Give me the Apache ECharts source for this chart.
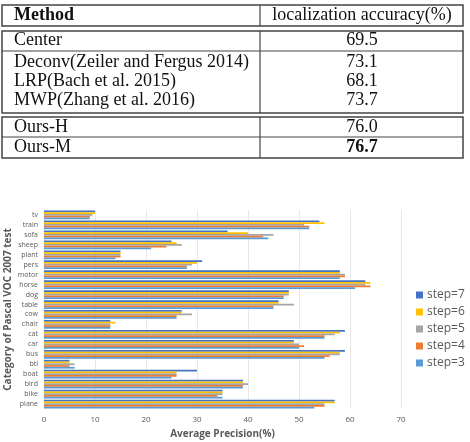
<!DOCTYPE html>
<html>
<head>
<meta charset="utf-8">
<script src="https://cdn.jsdelivr.net/npm/echarts@6/dist/echarts.min.js"></script>
<style>
  html, body { margin: 0; padding: 0; background: #fff; }
  #chart { width: 470px; height: 442px; }
</style>
</head>
<body>
<div id="chart"></div>
<script>
// table data
const methods = ['Center', 'Deconv(Zeiler and Fergus 2014)', 'LRP(Bach et al. 2015)', 'MWP(Zhang et al. 2016)', 'Ours-H', 'Ours-M'];
const accuracy = ['69.5', '73.1', '68.1', '73.7', '76.0', '76.7'];

// bar chart data (bottom to top)
const categories = ['plane', 'bike', 'bird', 'boat', 'btl', 'bus', 'car', 'cat', 'chair', 'cow',
  'table', 'dog', 'horse', 'motor', 'pers', 'plant', 'sheep', 'sofa', 'train', 'tv'];
const step7 = [57, 35, 39, 30, 5, 59, 49, 59, 13, 27, 46, 48, 63, 58, 31, 15, 25, 36, 54, 10];
const step6 = [57, 35, 39, 26, 5, 58, 49, 58, 14, 27, 46, 48, 64, 58, 30, 15, 26, 40, 55, 10];
const step5 = [55, 35, 40, 26, 6, 58, 50, 57, 13, 29, 49, 48, 63, 59, 29, 15, 27, 45, 51, 9.5];
const step4 = [55, 34, 39, 26, 5, 56, 51, 55, 13, 26, 45, 47, 64, 59, 28, 15, 24, 43, 52, 9];
const step3 = [53, 35, 39, 25, 6, 55, 50, 55, 13, 26, 45, 47, 61, 58, 28, 14, 21, 44, 52, 9];
const xTicks = [0, 10, 20, 30, 40, 50, 60, 70];

const chart = echarts.init(document.getElementById('chart'));

// table drawn with graphic elements
const rowY = [40, 62, 81, 100, 127, 147];
const serif = '"Liberation Serif", "DejaVu Serif", serif';
const border = { stroke: '#444', lineWidth: 1.5, fill: 'none' };
const tableGraphic = [];
[[5, 26], [31, 113], [117, 158]].forEach(function (b) {
  tableGraphic.push({ type: 'rect', shape: { x: 2, y: b[0], width: 461, height: b[1] - b[0] }, style: border });
  tableGraphic.push({ type: 'line', shape: { x1: 260, y1: b[0], x2: 260, y2: b[1] }, style: { stroke: '#444', lineWidth: 1.2 } });
});
[51, 137].forEach(function (y) {
  tableGraphic.push({ type: 'line', shape: { x1: 2, y1: y, x2: 463, y2: y }, style: { stroke: '#444', lineWidth: 1.2 } });
});
tableGraphic.push({ type: 'text', x: 14, y: 15, style: { text: 'Method', font: 'bold 18px ' + serif, fill: '#111', verticalAlign: 'middle' } });
tableGraphic.push({ type: 'text', x: 362, y: 15, style: { text: 'localization accuracy(%)', font: '18px ' + serif, fill: '#111', align: 'center', verticalAlign: 'middle' } });
methods.forEach(function (m, i) {
  tableGraphic.push({ type: 'text', x: 14, y: rowY[i], style: { text: m, font: '18px ' + serif, fill: '#111', verticalAlign: 'middle' } });
  tableGraphic.push({ type: 'text', x: 362, y: rowY[i], style: {
    text: accuracy[i], font: (i === methods.length - 1 ? 'bold ' : '') + '18px ' + serif,
    fill: '#111', align: 'center', verticalAlign: 'middle' } });
});

const steps = [
  { name: 'step=7', data: step7, color: '#4472C4' },
  { name: 'step=6', data: step6, color: '#FFC000' },
  { name: 'step=5', data: step5, color: '#A5A5A5' },
  { name: 'step=4', data: step4, color: '#ED7D31' },
  { name: 'step=3', data: step3, color: '#5B9BD5' }
];

const sans = '"Open Sans", "DejaVu Sans", sans-serif';

chart.setOption({
  animation: false,
  textStyle: { fontFamily: sans },
  graphic: tableGraphic,
  legend: {
    orient: 'vertical',
    left: 411,
    top: 284,
    itemWidth: 7,
    itemHeight: 7,
    itemGap: 5,
    icon: 'rect',
    textStyle: { fontSize: 12, color: '#595959', padding: [0, 0, 0, -1] },
    data: steps.map(function (s) { return s.name; })
  },
  grid: { left: 44, right: 69, top: 210, bottom: 33, containLabel: false, outerBoundsMode: 'none' },
  xAxis: {
    type: 'value',
    min: 0,
    max: 70,
    interval: 10,
    name: 'Average Precision(%)',
    nameLocation: 'middle',
    nameGap: 20,
    nameMoveOverlap: false,
    nameTextStyle: { fontSize: 10, fontWeight: 'bold', color: '#595959' },
    axisLine: { show: false },
    axisTick: { show: false },
    axisLabel: { fontSize: 8, color: '#595959', margin: 7,
      formatter: function (v) { return xTicks.indexOf(v) >= 0 ? String(v) : ''; } },
    splitLine: { show: true, lineStyle: { color: '#e8e8e8', width: 1 } }
  },
  yAxis: {
    type: 'category',
    data: categories,
    name: 'Category of Pascal VOC 2007 test',
    nameLocation: 'middle',
    nameRotate: 90,
    nameGap: 31,
    nameMoveOverlap: false,
    nameTextStyle: { fontSize: 10, fontWeight: 'bold', color: '#595959' },
    axisLine: { show: false },
    axisTick: { show: false },
    axisLabel: { fontSize: 7, color: '#595959', margin: 6 }
  },
  series: steps.map(function (s) {
    return {
      name: s.name,
      type: 'bar',
      data: s.data,
      barGap: '0%',
      barCategoryGap: '12%',
      itemStyle: { color: s.color }
    };
  })
});

window.addEventListener('resize', function () { chart.resize(); });
</script>
</body>
</html>
